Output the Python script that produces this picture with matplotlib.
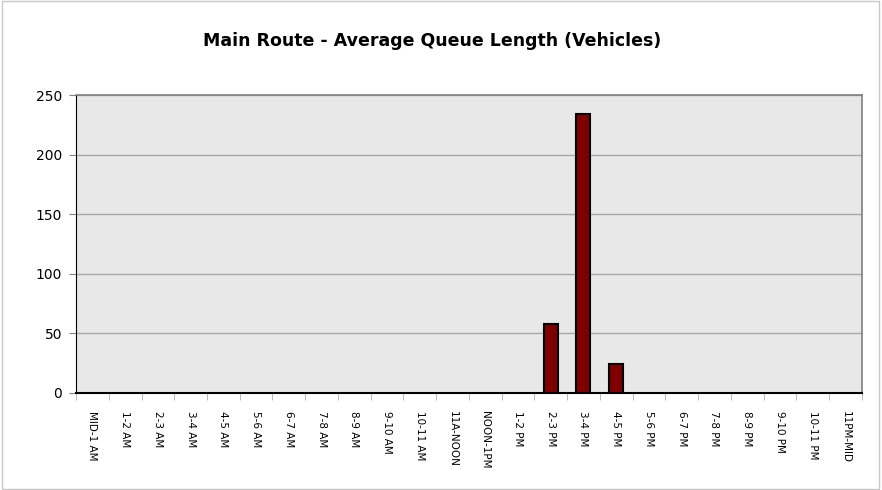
import matplotlib
matplotlib.use("Agg")
import matplotlib.pyplot as plt
from matplotlib.patches import Rectangle
import numpy as np

hours = ["MID-1 AM", "1-2 AM", "2-3 AM", "3-4 AM", "4-5 AM", "5-6 AM", "6-7 AM",
         "7-8 AM", "8-9 AM", "9-10 AM", "10-11 AM", "11A-NOON", "NOON-1PM",
         "1-2 PM", "2-3 PM", "3-4 PM", "4-5 PM", "5-6 PM", "6-7 PM", "7-8 PM",
         "8-9 PM", "9-10 PM", "10-11 PM", "11PM-MID"]
queue = [0, 0, 0, 0, 0, 0, 0, 0, 0, 0, 0, 0, 0, 0, 58, 234, 24,
         0, 0, 0, 0, 0, 0, 0]

fig = plt.figure(figsize=(8.82, 4.9), dpi=100)
fig.patches.append(Rectangle((0.002, 0.002), 0.995, 0.995, transform=fig.transFigure,
                             fill=False, edgecolor="#c8c8c8", linewidth=1))
ax = fig.add_axes([0.0862, 0.198, 0.8908, 0.608])
ax.set_facecolor("#e8e8e8")

x = np.arange(len(hours))
# zero-height bars get no outline so they disappear like in the original
lw = [1.5 if q > 0 else 0 for q in queue]
ax.bar(x, queue, width=0.43, color="#800000", edgecolor="black", linewidth=lw, zorder=3)

ax.set_xlim(-0.5, len(hours) - 0.5)
ax.set_ylim(0, 250)
ax.set_yticks([0, 50, 100, 150, 200, 250])
ax.yaxis.grid(True, color="#a8a8a8", linewidth=1, zorder=1)
ax.tick_params(axis="y", labelsize=10, length=5, color="#808080", pad=5)

ax.set_xticks(x)
ax.set_xticklabels(hours, rotation=-90, fontsize=7.5, va="top", ha="center")
ax.set_xticks(np.arange(-0.5, len(hours)), minor=True)
ax.tick_params(axis="x", which="major", length=0, pad=13)
ax.tick_params(axis="x", which="minor", length=5, color="#b0b0b0")

for side in ["top", "right"]:
    ax.spines[side].set_color("#808080")
    ax.spines[side].set_linewidth(1.2)
ax.spines["left"].set_color("black")
ax.spines["bottom"].set_color("black")
ax.spines["bottom"].set_linewidth(1.5)

fig.suptitle("Main Route - Average Queue Length (Vehicles)", fontsize=12.5,
             fontweight="bold", x=0.49, y=0.935)

plt.savefig("out.png", dpi=100)
plt.close()
